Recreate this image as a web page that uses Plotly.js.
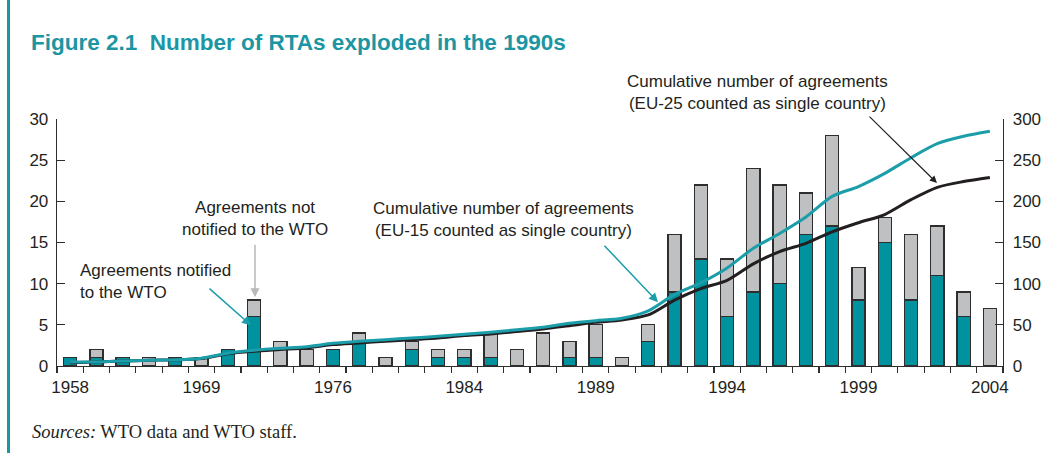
<!DOCTYPE html>
<html>
<head>
<meta charset="utf-8">
<script src="https://cdn.plot.ly/plotly-3.0.1.min.js"></script>
<style>html,body{margin:0;padding:0;background:#fff;}#chart{width:1047px;height:453px;}</style>
</head>
<body>
<div id="chart"></div>
<script>
// Bar positions (category slots along the axis) and their tick labels
const barSlots = [0,1,2,3,4,5,6,7,8,9,10,11,12,13,14,15,16,17,18,19,20,21,22,23,24,25,26,27,28,29,30,31,32,33,34,35];
const tickSlots = [0,5,10,15,20,25,30,35];
const tickYears = ['1958','1969','1976','1984','1989','1994','1999','2004'];

// Number of agreements per slot (left axis)
const notified = [1,1,1,0,1,0,2,6,0,0,2,3,0,2,1,1,1,0,0,1,1,0,3,9,13,6,9,10,16,17,8,15,8,11,6,0];
const totalAgreements = [1,2,1,1,1,1,2,8,3,2,2,4,1,3,2,2,4,2,4,3,5,1,5,16,22,13,24,22,21,28,12,18,16,17,9,7];
const notNotified = totalAgreements.map((t, i) => t - notified[i]);

// Cumulative number of agreements (right axis)
const cumEU15 = [5,5,6,7,7.5,9.5,15.5,19,21.5,23.5,27.5,30,32,34,36,38.5,41,44,47,52,55,58,67,87,101,119,143,161,181,206,218,234,253,270,279,285];
const cumEU25 = [4,5,6,7,7.5,9,15,18,20,22,26,28,30,32,34,37,39,42,45,49,53,56,62,80,94,104,124,139,149,163,174,184,202,217,224,229];

const TEAL_BAR = '#00929e';
const TEAL_LINE = '#1b9ea9';
const GRAY_BAR = '#bfc0c2';
const OUTLINE = '#2e2e2e';
const TEXT = '#231f20';
const FONT = 'Liberation Sans, Arial, sans-serif';

// zero-height segments are not drawn
const nz = arr => arr.map(v => (v === 0 ? null : v));

const traces = [
  {type:'bar', x: barSlots, y: nz(notified), name:'Notified',
   marker:{color:TEAL_BAR, line:{color:OUTLINE, width:1.3}}, hoverinfo:'skip'},
  {type:'bar', x: barSlots, y: nz(notNotified), name:'Not notified',
   marker:{color:GRAY_BAR, line:{color:OUTLINE, width:1.3}}, hoverinfo:'skip'},
  {type:'scatter', mode:'lines', x: barSlots, y: cumEU25, xaxis:'x2', yaxis:'y2',
   line:{color:'#231f20', width:3, shape:'spline', smoothing:0.8}, hoverinfo:'skip'},
  {type:'scatter', mode:'lines', x: barSlots, y: cumEU15, xaxis:'x2', yaxis:'y2',
   line:{color:TEAL_LINE, width:3, shape:'spline', smoothing:0.8}, hoverinfo:'skip'}
];

// pixel helpers for annotation placement (plot area: x 57..1003, y 119..365.7)
const PL = 57, PW = 946, PB = 365.7, PH = 246.7;
const px = v => (v - PL) / PW;
const py = v => (PB - v) / PH;

const halfTicks = [];
for (let k = -0.5; k <= 35.5; k += 1) halfTicks.push(k);

const layout = {
  width:1047, height:453, autosize:false,
  margin:{l:57, r:44, t:119, b:87, pad:0},
  paper_bgcolor:'#fff', plot_bgcolor:'rgba(0,0,0,0)',
  showlegend:false, barmode:'stack', bargap:0.5,
  font:{family:FONT, color:TEXT, size:17},
  title:{text:'Figure 2.1\u00a0 Number of RTAs exploded in the 1990s',
    font:{family:FONT, size:22.5, color:'#1b96a2', weight:'bold'},
    xref:'container', yref:'container', x:31/1047, xanchor:'left', y:1-42/453, yanchor:'middle'},
  xaxis:{range:[-0.5,35.5], tickmode:'array', tickvals:halfTicks, showticklabels:false,
    ticks:'outside', ticklen:6, tickcolor:OUTLINE, tickwidth:1.2,
    showline:true, linecolor:OUTLINE, linewidth:1.3, showgrid:false, zeroline:false, fixedrange:true},
  xaxis2:{overlaying:'x', side:'bottom', range:[-0.5,35.5], tickmode:'array', tickvals:tickSlots, ticktext:tickYears,
    ticks:'', showline:false, showgrid:false, zeroline:false, ticklabelstandoff:9,
    tickfont:{family:FONT, size:17, color:TEXT}},
  yaxis:{range:[0,30], dtick:5, tick0:0, ticks:'inside', ticklen:8, tickcolor:OUTLINE, tickwidth:1.2,
    showline:true, linecolor:OUTLINE, linewidth:1.3, showgrid:false, zeroline:false,
    tickfont:{family:FONT, size:17, color:TEXT}, ticklabelstandoff:4},
  yaxis2:{overlaying:'y', side:'right', range:[0,300], dtick:50, tick0:0, ticks:'inside', ticklen:8, tickcolor:OUTLINE, tickwidth:1.2,
    showline:true, linecolor:OUTLINE, linewidth:1.3, showgrid:false, zeroline:false,
    tickfont:{family:FONT, size:17, color:TEXT}, ticklabelstandoff:5},
  shapes:[
    {type:'line', xref:'paper', yref:'paper', x0:px(8.5), x1:px(8.5), y0:py(0), y1:py(453),
     line:{color:'#1b96a2', width:3}}
  ],
  annotations:[
    {xref:'paper', yref:'paper', x:px(255), y:py(218.5), text:'Agreements not<br>notified to the WTO',
     showarrow:false, xanchor:'center', yanchor:'middle', align:'center', font:{size:17, color:TEXT}},
    {xref:'paper', yref:'paper', x:px(78), y:py(281.5), text:'Agreements notified<br>to the WTO',
     showarrow:false, xanchor:'left', yanchor:'middle', align:'left', font:{size:17, color:TEXT}},
    {xref:'paper', yref:'paper', x:px(503), y:py(219), text:'Cumulative number of agreements<br>(EU-15 counted as single country)',
     showarrow:false, xanchor:'center', yanchor:'middle', align:'center', font:{size:17, color:TEXT}},
    {xref:'paper', yref:'paper', x:px(757), y:py(92.5), text:'Cumulative number of agreements<br>(EU-25 counted as single country)',
     showarrow:false, xanchor:'center', yanchor:'middle', align:'center', font:{size:17, color:TEXT}},
    // arrows
    {xref:'paper', yref:'paper', x:px(255), y:py(297), ax:0, ay:-54, text:'', showarrow:true,
     arrowhead:2, arrowsize:1.2, arrowwidth:1.5, arrowcolor:'#b8b9bb'},
    {xref:'paper', yref:'paper', x:px(251), y:py(325), ax:-43, ay:-38, text:'', showarrow:true,
     arrowhead:2, arrowsize:1.2, arrowwidth:1.5, arrowcolor:TEAL_LINE},
    {xref:'paper', yref:'paper', x:px(658), y:py(302), ax:-55, ay:-58, text:'', showarrow:true,
     arrowhead:2, arrowsize:1.2, arrowwidth:1.5, arrowcolor:TEAL_LINE},
    {xref:'paper', yref:'paper', x:px(937), y:py(183), ax:-69, ay:-68, text:'', showarrow:true,
     arrowhead:2, arrowsize:1.2, arrowwidth:1.2, arrowcolor:TEXT},
    // source
    {xref:'paper', yref:'paper', x:px(30), y:py(431.7), text:'<i>Sources:</i> WTO data and WTO staff.',
     showarrow:false, xanchor:'left', yanchor:'middle', align:'left',
     font:{family:'Liberation Serif, Times New Roman, serif', size:18.5, color:TEXT}}
  ]
};

Plotly.newPlot('chart', traces, layout, {staticPlot:true, displayModeBar:false});
</script>
</body>
</html>
